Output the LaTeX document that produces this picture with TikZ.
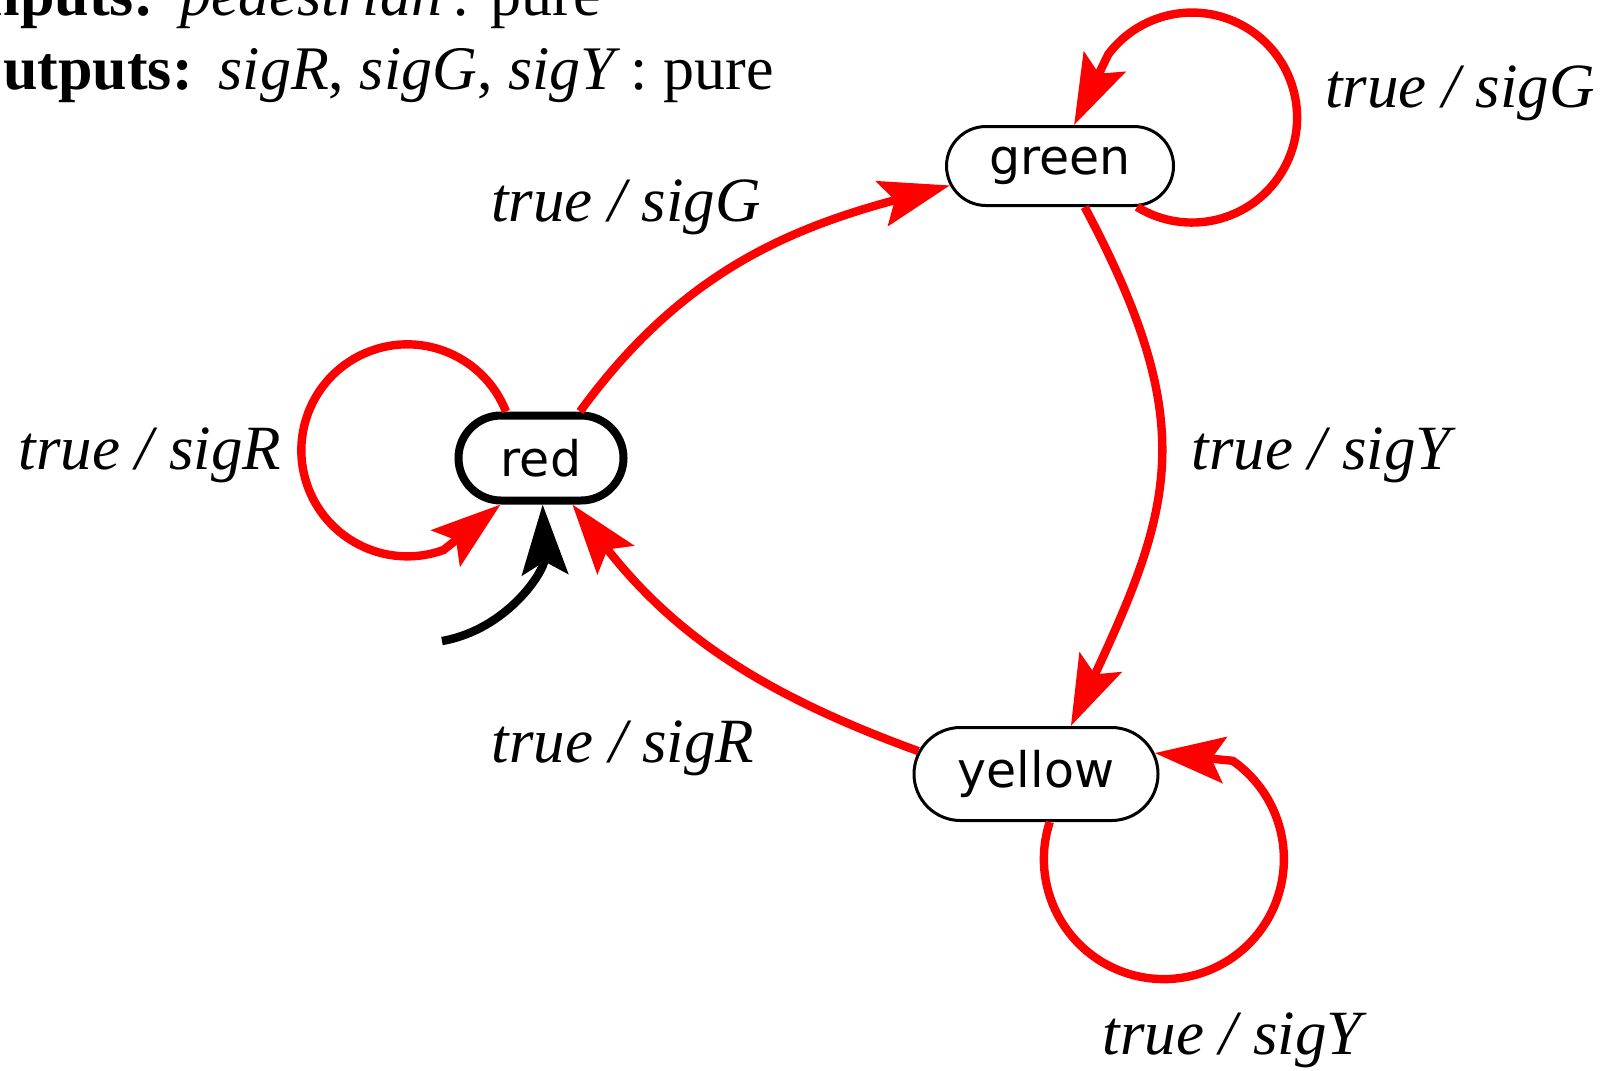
\documentclass[tikz,border=0pt]{standalone}
\usepackage{fontspec}
\setmainfont{Liberation Serif}
\newfontfamily\statefont{DejaVu Sans}
\usetikzlibrary{arrows.meta,shapes.misc}
\begin{document}
\begin{tikzpicture}[x=0.5pt,y=0.5pt,
  state/.style={rounded rectangle, draw=black, line width=1.5pt, inner sep=0pt,
    font=\statefont\fontsize{24.5}{28}\selectfont, fill=white},
  tip/.style={-{Stealth[length=35pt,width=23pt,inset=6.5pt]}},
  trans/.style={draw=red, line width=4.2pt, tip},
  initarrow/.style={draw=black, line width=4.2pt, tip},
  lbl/.style={font=\fontsize{31.5}{36}\selectfont\itshape, anchor=base, inner sep=0pt},
  hdr/.style={font=\fontsize{31}{36}\selectfont, anchor=base east, inner sep=0pt}]
\useasboundingbox (0,0) rectangle (1604,-1070);

% header
\node[hdr] (inputs) at (601,-16) {\textbf{Inputs:}\hspace{13pt}\textit{pedestrian}\,: pure};
\node[hdr] (outputs) at (774,-90) {\textbf{Outputs:}\hspace{13pt}\textit{sigR}, \textit{sigG}, \textit{sigY}\,: pure};

% states
\node[state, line width=4pt, minimum width=82.5pt, minimum height=42.5pt] (red) at (541,-458) {red};
\node[state, minimum width=113.5pt, minimum height=39.5pt] (green) at (1060,-166) {green};
\node[state, minimum width=122pt, minimum height=46.5pt] (yellow) at (1036,-774) {yellow};

% transitions
\draw[trans] (red.50) to[out=54,in=195] (green.190);
\draw[trans] (green.-59) to[out=-62,in=65,looseness=1.2] (yellow.54);
\draw[trans] (yellow.169) to[out=160,in=-52] (red.-56);
\draw[trans] (red.127) arc[start angle=21.5,end angle=290,radius=106] -- (red.-131);
\draw[trans] (green.-28) arc[start angle=238.3,end angle=503,radius=105] -- (green.71);
\draw[trans] (yellow.-74) arc[start angle=162,end angle=415,radius=120] -- (yellow.10);

% initial arrow
\coordinate (init) at (442,-641);
\draw[initarrow] (init) to[out=10,in=-88] (red.-88);

% labels
\node[lbl] (lrg) at (626,-221) {true / sigG};
\node[lbl] (lgg) at (1460,-107) {true / sigG};
\node[lbl] (lrr) at (150,-469) {true / sigR};
\node[lbl] (lgy) at (1321,-469) {true / sigY};
\node[lbl] (lyr) at (623,-762) {true / sigR};
\node[lbl] (lyy) at (1232,-1054) {true / sigY};
\end{tikzpicture}
\end{document}
